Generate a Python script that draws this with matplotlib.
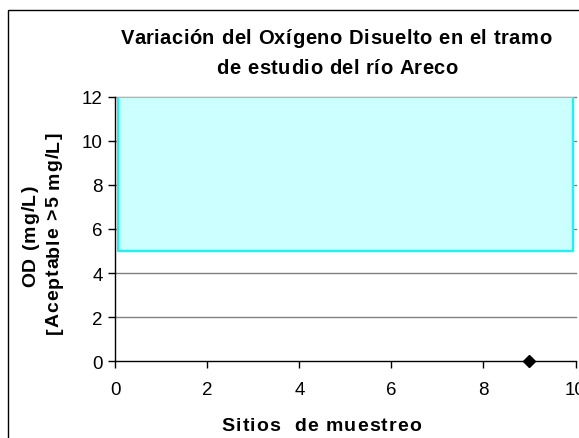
import matplotlib
matplotlib.use("Agg")
import matplotlib.pyplot as plt
from matplotlib.patches import Rectangle
from matplotlib.font_manager import FontProperties

plt.rcParams['font.family'] = ['Liberation Sans', 'DejaVu Sans']

# Data
sites = [9]
od_values = [0]
band_x = [0.05, 9.95]
band_low = [5, 5]
band_high = [12, 12]
x_ticks = [0, 2, 4, 6, 8, 10]
y_ticks = [0, 2, 4, 6, 8, 10, 12]

title_lines = ['Variación del Oxígeno Disuelto en el tramo', 'de estudio del río Areco']
xlabel = 'Sitios  de muestreo'
ylabel_lines = ['OD (mg/L)', '[Aceptable >5 mg/L]']

W, H = 579, 439
fig = plt.figure(figsize=(W / 100, H / 100), dpi=100)
fig.patch.set_facecolor('white')
renderer = fig.canvas.get_renderer()


def spaced_text(s, cx, cy_base, size, spacing, rotation=0):
    """Draw bold text centred at cx (along reading direction) with extra letter spacing.
    Coordinates in pixels from top-left; cy_base is the baseline position."""
    fp = FontProperties(family=['Liberation Sans', 'DejaVu Sans'], weight='bold', size=size)
    wH = renderer.get_text_width_height_descent('H', fp, ismath=False)[0]
    wS = renderer.get_text_width_height_descent(s, fp, ismath=False)[0]
    total = wS + spacing * (len(s) - 1)
    start = cx - total / 2 if rotation == 0 else cx + total / 2
    for i, ch in enumerate(s):
        if ch == ' ':
            continue
        off = renderer.get_text_width_height_descent(s[:i] + 'H', fp, ismath=False)[0] - wH
        off += spacing * i
        if rotation == 0:
            x, y = start + off, cy_base
        else:
            x, y = cy_base, start - off
        fig.text(x / W, 1 - y / H, ch, fontproperties=fp, ha='left', va='baseline',
                 rotation=rotation, rotation_mode='anchor')


# chart-area border (extends past right/bottom edges)
fig.patches.append(Rectangle((8 / W, -0.1), 1.2, (H - 11) / H + 0.1,
                             transform=fig.transFigure, fill=False,
                             edgecolor='black', linewidth=1.0))

ax = fig.add_axes([115.3 / W, 1 - 362.3 / H, (575.5 - 115.3) / W, (362.3 - 97.6) / H])
ax.set_xlim(0, 10)
ax.set_ylim(0, 12)

# gridlines
for yv in y_ticks[1:]:
    ax.axhline(yv, color='#808080', linewidth=1.0, zorder=1, clip_on=False)

# acceptable band
ax.fill_between(band_x, band_low, band_high, facecolor='#CCFFFF',
                edgecolor='#00FFFF', linewidth=1.5, zorder=2)

ax.plot(sites, od_values, linestyle='none', marker='D', markersize=6.5,
        color='black', zorder=5, clip_on=False)

for s in ['top', 'right']:
    ax.spines[s].set_visible(False)
for s in ['left', 'bottom']:
    ax.spines[s].set_color('black')
    ax.spines[s].set_linewidth(1.0)
    ax.spines[s].set_zorder(6)

ax.set_xticks(x_ticks)
ax.set_yticks(y_ticks)
ax.tick_params(axis='both', direction='out', length=5, width=1, labelsize=13.5,
               colors='black')
ax.tick_params(axis='x', pad=9)
ax.tick_params(axis='y', pad=4)
ax.set_facecolor('white')

# title
spaced_text(title_lines[0], 336, 43.5, 14.5, 0.55)
spaced_text(title_lines[1], 337, 74, 14.5, 0.55)

# x label
spaced_text(xlabel, 321.5, 430.7, 14, 1.1)

# y label (rotated, baseline x positions)
spaced_text(ylabel_lines[0], 236, 35, 14, 0.9, rotation=90)
spaced_text(ylabel_lines[1], 233.5, 58.5, 14, 0.9, rotation=90)

fig.savefig('out.png', dpi=100)
